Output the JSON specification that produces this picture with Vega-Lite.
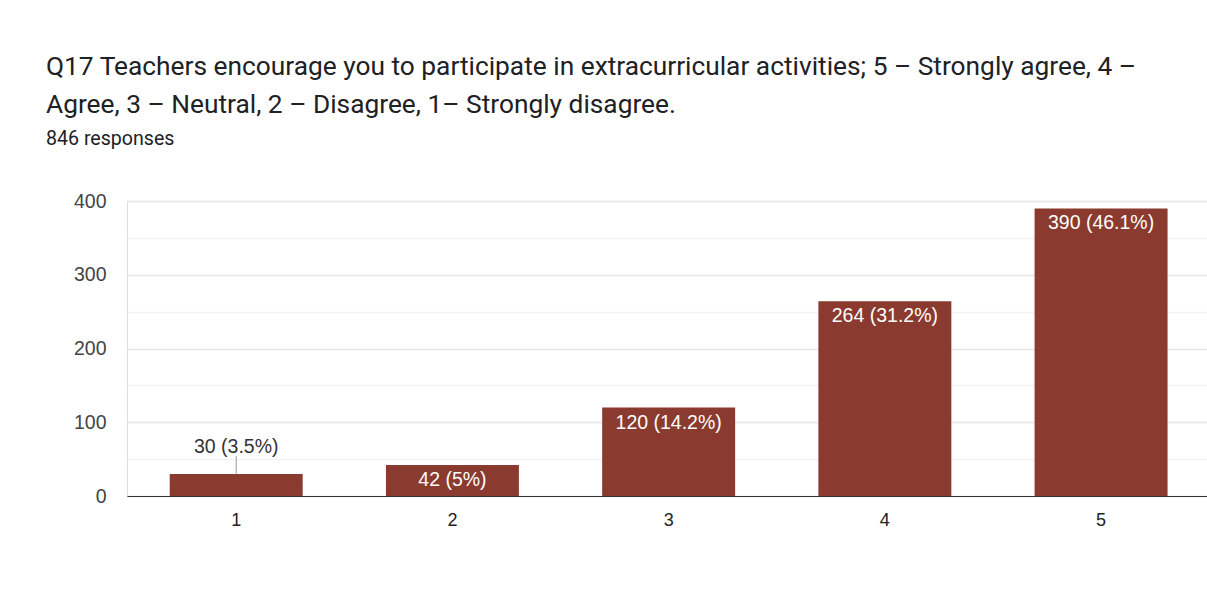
{
  "$schema": "https://vega.github.io/schema/vega-lite/v6.json",
  "autosize": {"type": "none"},
  "width": 1080,
  "height": 295,
  "padding": {"left": 127, "top": 201, "right": 0, "bottom": 118},
  "background": "#ffffff",
  "title": {
    "text": ["Q17 Teachers encourage you to participate in extracurricular activities; 5 – Strongly agree, 4 –", "Agree, 3 – Neutral, 2 – Disagree, 1– Strongly disagree."],
    "subtitle": "846 responses",
    "anchor": "start",
    "frame": "group",
    "dx": -81,
    "offset": 42,
    "font": "Roboto",
    "fontSize": 26.3,
    "fontWeight": "normal",
    "lineHeight": 38.5,
    "color": "#202124",
    "subtitleFont": "Roboto",
    "subtitleFontSize": 19.6,
    "subtitleColor": "#202124",
    "subtitlePadding": 12
  },
  "data": {
    "values": [
      {"rating": "1", "count": 30, "label": "30 (3.5%)"},
      {"rating": "2", "count": 42, "label": "42 (5%)"},
      {"rating": "3", "count": 120, "label": "120 (14.2%)"},
      {"rating": "4", "count": 264, "label": "264 (31.2%)"},
      {"rating": "5", "count": 390, "label": "390 (46.1%)"}
    ]
  },
  "encoding": {
    "x": {
      "field": "rating",
      "type": "nominal",
      "sort": null,
      "scale": {"paddingInner": 0.385, "paddingOuter": 0.19, "align": 0.52},
      "axis": {
        "title": null,
        "labelAngle": 0,
        "ticks": false,
        "domain": true,
        "domainColor": "#333333",
        "domainWidth": 1.2,
        "labelFont": "Liberation Sans",
        "labelFontSize": 18,
        "labelColor": "#222222",
        "labelPadding": 15,
        "grid": false
      }
    },
    "y": {
      "field": "count",
      "type": "quantitative",
      "scale": {"domain": [0, 400], "nice": false},
      "axis": {
        "title": null,
        "values": [0, 50, 100, 150, 200, 250, 300, 350, 400],
        "labelExpr": "datum.value % 100 === 0 ? datum.label : ''",
        "ticks": false,
        "domain": false,
        "grid": true,
        "gridColor": {"condition": {"test": "datum.value % 100 === 0", "value": "#e6e6e6"}, "value": "#f3f3f3"},
        "gridWidth": 1.3,
        "labelFont": "Liberation Sans",
        "labelFontSize": 19.5,
        "labelColor": "#444444",
        "labelPadding": 21
      }
    }
  },
  "layer": [
    {"mark": {"type": "bar", "color": "#8a3a2e"}},
    {
      "transform": [{"filter": "datum.count >= 40"}],
      "mark": {"type": "text", "baseline": "alphabetic", "dy": 21, "color": "#ffffff", "font": "Liberation Sans", "fontSize": 19.5},
      "encoding": {"text": {"field": "label"}}
    },
    {
      "transform": [{"filter": "datum.count < 40"}],
      "mark": {"type": "text", "baseline": "alphabetic", "dy": -21, "color": "#333333", "font": "Liberation Sans", "fontSize": 19.5},
      "encoding": {"text": {"field": "label"}}
    },
    {
      "transform": [{"filter": "datum.count < 40"}],
      "mark": {"type": "rule", "color": "#999999", "strokeWidth": 1, "y2Offset": -18},
      "encoding": {"y2": {"field": "count"}}
    }
  ]
}
